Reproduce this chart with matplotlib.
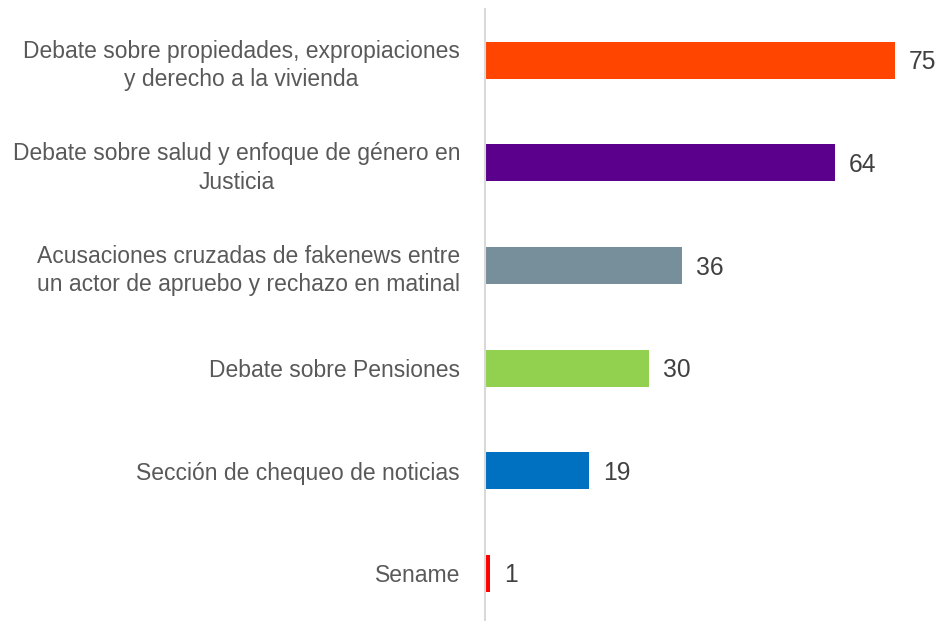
import matplotlib
matplotlib.use("Agg")
import matplotlib.pyplot as plt
from matplotlib import font_manager as fm

categories = [
    "Debate sobre propiedades, expropiaciones\ny derecho a la vivienda",
    "Debate sobre salud y enfoque de género en\nJusticia",
    "Acusaciones cruzadas de fakenews entre\nun actor de apruebo y rechazo en matinal",
    "Debate sobre Pensiones",
    "Sección de chequeo de noticias",
    "Sename",
]
values = [75, 64, 36, 30, 19, 1]
colors = ["#FF4500", "#5B008C", "#778F9B", "#92D050", "#0070C0", "#FF0000"]

names = {f.name for f in fm.fontManager.ttflist}
fam = ["Liberation Sans Narrow", "Liberation Sans", "DejaVu Sans"]
plt.rcParams["font.family"] = [f for f in fam if f in names] or ["DejaVu Sans"]

W, H = 938, 621
fig = plt.figure(figsize=(W / 100, H / 100), dpi=100)
renderer = fig.canvas.get_renderer()

# choose font size so the longest line is about 422 px wide
probe = fig.text(0, 0, "un actor de apruebo y rechazo en matinal", fontsize=18)
w18 = probe.get_window_extent(renderer).width
probe.remove()
fs = min(18, 18 * 422 / w18)

left = 485 / W
top = 9
n = len(categories)
spacing = 102.6
bottom_px = top + n * spacing
ax = fig.add_axes([left, 1 - bottom_px / H, (933 - 485) / W, n * spacing / H])

ypos = list(range(n))
ax.barh(ypos, values, height=0.36, color=colors)
ax.set_ylim(n - 0.5, -0.5)
ax.set_xlim(0, 82)
ax.set_yticks(ypos)
ax.set_yticklabels(categories, fontsize=fs, color="#595959", linespacing=1.3)
for lbl in ax.get_yticklabels():
    lbl.set_multialignment("center")
ax.tick_params(axis="y", length=0, pad=25 * 72 / 100)
ax.set_xticks([])

px_per_unit = (933 - 485) / 82
for y, v in zip(ypos, values):
    ax.text(v + 14 / px_per_unit, y + 0.02, str(v), va="center", ha="left",
            fontsize=min(19, fs * 1.08), color="#404040")

for s in ["top", "right", "bottom"]:
    ax.spines[s].set_visible(False)
ax.spines["left"].set_color("#D9D9D9")
ax.spines["left"].set_linewidth(1.5)

fig.savefig("out.png", dpi=100)
